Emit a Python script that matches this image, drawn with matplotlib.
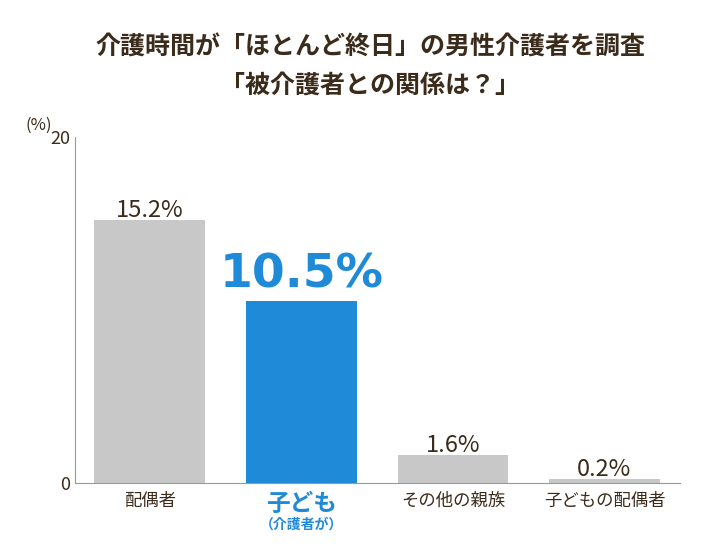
import matplotlib.pyplot as plt

plt.rcParams["font.family"] = "Noto Sans CJK JP"

categories = ["配偶者", "子ども", "その他の親族", "子どもの配偶者"]
values = [15.2, 10.5, 1.6, 0.2]
value_labels = ["15.2%", "10.5%", "1.6%", "0.2%"]
colors = ["#c8c8c8", "#1f8ad8", "#c8c8c8", "#c8c8c8"]
text_color = "#3b2b1b"
blue = "#1f8ad8"

fig = plt.figure(figsize=(7.26, 5.45), dpi=100)
ax = fig.add_axes([0.103, 0.114, 0.834, 0.635])
x = range(len(categories))
ax.bar(x, values, width=0.73, color=colors)
ax.set_xlim(-0.495, 3.5)
ax.set_ylim(0, 20)
ax.set_yticks([0, 20])
ax.set_yticklabels(["0", "20"], fontsize=13, color=text_color)
ax.set_xticks([])
for s in ["top", "right"]:
    ax.spines[s].set_visible(False)
ax.spines["left"].set_color("#999999")
ax.spines["bottom"].set_color("#999999")
ax.tick_params(axis="y", length=0)
ax.text(-0.06, 1.01, "(%)", transform=ax.transAxes, fontsize=12, color=text_color, ha="center", va="bottom")

for i, (v, lab) in enumerate(zip(values, value_labels)):
    if i == 1:
        ax.text(i, v + 0.2, lab, ha="center", va="bottom", fontsize=34,
                fontweight="bold", color=blue, fontfamily="DejaVu Sans")
    else:
        ax.text(i, v - 0.1, lab, ha="center", va="bottom", fontsize=17, color=text_color)

for i, c in enumerate(categories):
    if i == 1:
        ax.text(i, -0.5, c, ha="center", va="top", fontsize=17, fontweight="bold", color=blue)
        ax.text(i, -2.0, "（介護者が）", ha="center", va="top", fontsize=10, fontweight="bold", color=blue)
    else:
        ax.text(i, -0.5, c, ha="center", va="top", fontsize=12.5, color=text_color)

fig.text(0.51, 0.9, "介護時間が「ほとんど終日」の男性介護者を調査", ha="center", fontsize=18, fontweight="bold", color=text_color)
fig.text(0.51, 0.83, "「被介護者との関係は？」", ha="center", fontsize=18, fontweight="bold", color=text_color)

fig.savefig("out.png", dpi=100)
